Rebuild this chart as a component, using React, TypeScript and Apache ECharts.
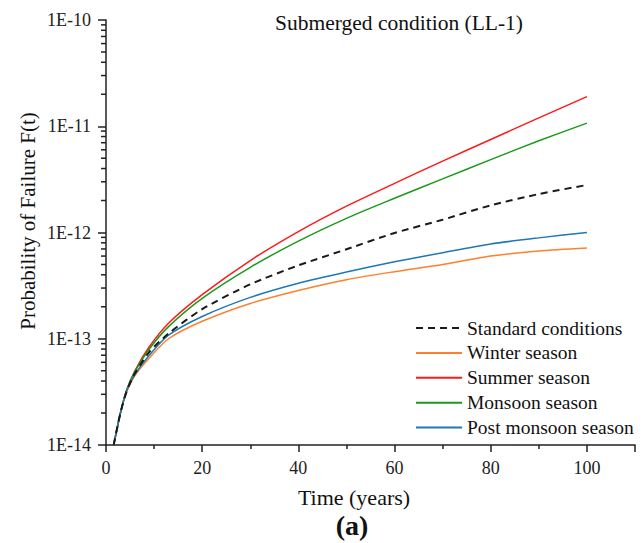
import React, { useEffect, useRef } from "react";
import * as echarts from "echarts";

const years = [1.6, 3, 4.3, 6, 9, 13, 20, 30, 40, 50, 60, 70, 80, 90, 100];
const standard = [1e-14, 2.0e-14, 3.2e-14, 4.7e-14, 7.5e-14, 1.12e-13, 1.9e-13, 3.25e-13, 4.9e-13, 6.95e-13, 9.9e-13, 1.32e-12, 1.8e-12, 2.3e-12, 2.8e-12];
const winter = [1e-14, 2.0e-14, 3.2e-14, 4.5e-14, 6.6e-14, 1.0e-13, 1.46e-13, 2.15e-13, 2.85e-13, 3.6e-13, 4.28e-13, 5.0e-13, 6.0e-13, 6.7e-13, 7.15e-13];
const summer = [1e-14, 2.0e-14, 3.3e-14, 5.0e-14, 8.4e-14, 1.4e-13, 2.6e-13, 5.45e-13, 1.02e-12, 1.77e-12, 2.9e-12, 4.7e-12, 7.5e-12, 1.2e-11, 1.9e-11];
const monsoon = [1e-14, 2.0e-14, 3.3e-14, 4.9e-14, 8.0e-14, 1.3e-13, 2.4e-13, 4.7e-13, 8.3e-13, 1.36e-12, 2.1e-12, 3.2e-12, 4.85e-12, 7.3e-12, 1.07e-11];
const postMonsoon = [1e-14, 2.0e-14, 3.2e-14, 4.6e-14, 7.0e-14, 1.08e-13, 1.62e-13, 2.45e-13, 3.33e-13, 4.25e-13, 5.3e-13, 6.46e-13, 7.8e-13, 8.9e-13, 1.0e-12];

const seriesNames = ["Standard conditions", "Winter season", "Summer season", "Monsoon season", "Post monsoon season"];
const seriesColors = ["#1a1a1a", "#ff7f2a", "#ff1a1a", "#1a9a1a", "#1f77b4"];
const decadeExponents = [-14, -13, -12, -11];
const minorMultipliers = [2, 3, 4, 5, 6, 7, 8, 9];

const FONT = "Liberation Serif";

export default function App() {
  const ref = useRef<HTMLDivElement>(null);
  useEffect(() => {
    if (!ref.current) return;
    const chart = echarts.init(ref.current, null, { renderer: "svg" });
    const allData = [standard, winter, summer, monsoon, postMonsoon];
    const minorTicks: number[][] = [];
    decadeExponents.forEach((e) => minorMultipliers.forEach((m) => minorTicks.push([0, m * Math.pow(10, e)])));

    const lineSeries = allData.map((d, i) => ({
      name: seriesNames[i],
      type: "line",
      data: years.map((y, j) => [y, d[j]]),
      symbol: "none",
      smooth: 0.25,
      lineStyle: { color: seriesColors[i], width: i === 0 ? 2 : 1.5, type: i === 0 ? [7, 5] : "solid" },
      itemStyle: { color: seriesColors[i] },
      z: i === 0 ? 3 : 2,
    }));

    chart.setOption({
      animation: false,
      backgroundColor: "#ffffff",
      textStyle: { fontFamily: FONT },
      title: {
        text: "Submerged condition (LL-1)",
        left: 270,
        top: 7,
        textStyle: { fontFamily: FONT, fontSize: 21.5, fontWeight: "normal", color: "#111" },
      },
      legend: {
        orient: "vertical",
        left: 410,
        top: 313,
        data: seriesNames,
        itemWidth: 46,
        itemHeight: 14,
        itemGap: 4.9,
        itemStyle: { opacity: 0 },
        textStyle: { fontFamily: FONT, fontSize: 19.5, color: "#111" },
      },
      grid: { left: 106, top: 20, right: 7, bottom: 98, containLabel: false },
      xAxis: {
        type: "value",
        min: 0,
        max: 110,
        interval: 20,
        axisLine: { show: true, lineStyle: { color: "#222", width: 1.5 } },
        axisTick: { show: true, length: 7, lineStyle: { color: "#222", width: 1.5 } },
        minorTick: { show: true, splitNumber: 2, length: 4, lineStyle: { color: "#222", width: 1.5 } },
        splitLine: { show: false },
        axisLabel: { fontFamily: FONT, fontSize: 18, color: "#222", margin: 14, showMaxLabel: false },
      },
      yAxis: {
        type: "log",
        logBase: 10,
        min: 1e-14,
        max: 1e-10,
        axisLine: { show: true, lineStyle: { color: "#222", width: 1.5 } },
        axisTick: { show: true, length: 8, lineStyle: { color: "#222", width: 1.5 } },
        splitLine: { show: false },
        axisLabel: {
          fontFamily: FONT,
          fontSize: 18,
          color: "#222",
          margin: 15,
          formatter: (v: number) => "1E" + Math.round(Math.log10(v)),
        },
      },
      graphic: [
        {
          type: "text",
          x: 28,
          y: 221,
          rotation: Math.PI / 2,
          style: {
            text: "Probability of Failure F(t)",
            font: "21px " + FONT,
            fill: "#111",
            textAlign: "center",
            textVerticalAlign: "middle",
          },
        },
        {
          type: "text",
          x: 354,
          y: 497,
          style: {
            text: "Time (years)",
            font: "22px " + FONT,
            fill: "#111",
            textAlign: "center",
            textVerticalAlign: "middle",
          },
        },
        {
          type: "text",
          x: 352,
          y: 525,
          style: {
            text: "(a)",
            font: "bold 28px " + FONT,
            fill: "#111",
            textAlign: "center",
            textVerticalAlign: "middle",
          },
        },
      ],
      series: [
        ...lineSeries,
        {
          name: "minorY",
          type: "custom",
          silent: true,
          clip: false,
          data: minorTicks,
          renderItem: (params: any, api: any) => {
            const p = api.coord([api.value(0), api.value(1)]);
            return {
              type: "line",
              shape: { x1: p[0] - 5, y1: p[1], x2: p[0], y2: p[1] },
              style: { stroke: "#222", lineWidth: 1.5 },
            };
          },
          z: 5,
        },
      ],
    });
    return () => chart.dispose();
  }, []);
  return <div ref={ref} style={{ position: "fixed", left: 0, top: 0, width: 642, height: 543 }} />;
}
